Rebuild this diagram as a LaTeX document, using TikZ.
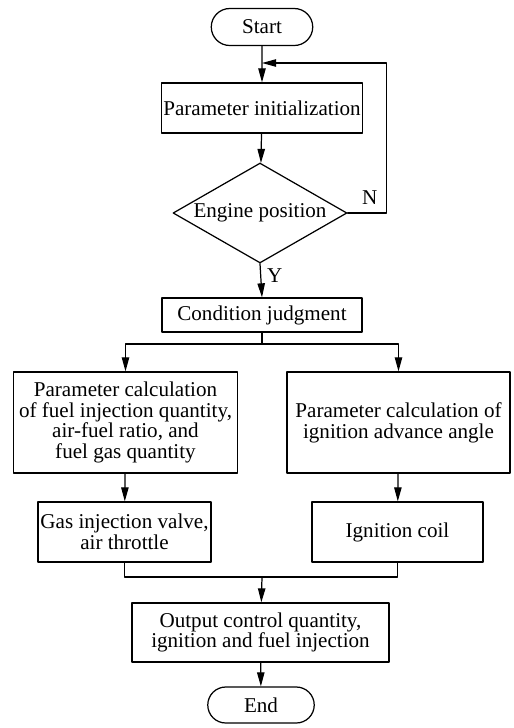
\documentclass[tikz,border=0pt]{standalone}
\usepackage{fontspec}
\setmainfont{Liberation Serif}
\usetikzlibrary{arrows.meta,shapes.geometric,shapes.misc}

\begin{document}
\begin{tikzpicture}[x=.02cm,y=-.02cm,font=\fontsize{12}{11.8}\selectfont,line cap=round,line join=round,line width=.7pt,>={Triangle[length=8pt,width=4.2pt]},
		box/.style={draw,align=center,inner sep=1pt},
		term/.style={draw,rounded rectangle,inner sep=1pt},
		test/.style={draw,diamond,aspect=1.74,inner sep=0pt}]
			\useasboundingbox (0,0) rectangle (514,728);
			\node[term,minimum width=2.1cm,minimum height=.74cm] (start) at (262,27) {Start};
			\node[box,minimum width=3.96cm,minimum height=1cm] (init) at (262,108) {Parameter initialization};
			\node[test,minimum width=3.48cm,minimum height=2cm] (engine) at (260,213) {Engine position};
			\node[box,minimum width=4cm,minimum height=.68cm] (cond) at (262,315) {Condition judgment};
			\node[box,minimum width=4.48cm,minimum height=2.02cm] (fuelcalc) at (125.5,422.5) {Parameter calculation\\of fuel injection quantity,\\air-fuel ratio, and\\fuel gas quantity};
			\node[box,minimum width=4.46cm,minimum height=2.02cm] (igncalc) at (398.5,422.5) {Parameter calculation of\\ignition advance angle};
			\node[box,minimum width=3.46cm,minimum height=1.2cm] (valve) at (124.5,532) {Gas injection valve,\\air throttle};
			\node[box,minimum width=3.42cm,minimum height=1.2cm] (coil) at (397.5,532) {Ignition coil};
			\node[box,minimum width=5.14cm,minimum height=1.18cm] (output) at (260.5,632.5) {Output control quantity,\\ignition and fuel injection};
			\node[term,minimum width=2.2cm,minimum height=.72cm] (stop) at (261,705) {End};
			\coordinate (back) at (262,63);
			\coordinate (split) at (262,344);
			\coordinate (join) at (262,577);
			\draw[->] (start) -- (init);
			\draw[->] (init) -- (engine);
			\draw[->] (engine.east) -- ++(39,0) |- (back);
			\draw (engine.east) ++(8,-2) node[above right] {N};
			\draw[->] (engine.south) -- (cond.north) node[pos=.35,right] {Y};
			\draw (cond.south) -- (split);
			\draw[->] (split) -| (fuelcalc.north);
			\draw[->] (split) -| (igncalc.north);
			\draw[->] (fuelcalc) -- (valve);
			\draw[->] (igncalc) -- (coil);
			\draw (valve.south) |- (join) -| (coil.south);
			\draw[->] (join) -- (output);
			\draw[->] (output) -- (stop);
		\end{tikzpicture}
\end{document}
